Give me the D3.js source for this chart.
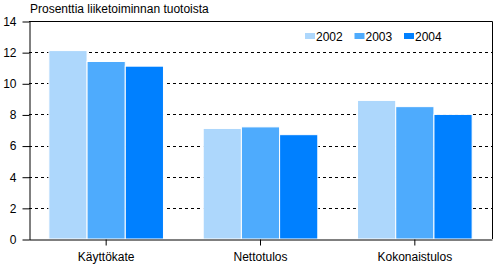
<!DOCTYPE html>
<html>
<head>
<meta charset="utf-8">
<script src="https://cdn.jsdelivr.net/npm/d3@7"></script>
<style>
  body { margin: 0; background: #fff; }
  svg text { font-family: "Liberation Sans", Arial, sans-serif; fill: #000; }
</style>
</head>
<body>
<script>
//chart data
var categories = ["Käyttökate", "Nettotulos", "Kokonaistulos"];
var years = ["2002", "2003", "2004"];
var values2002 = [12.1, 7.1, 8.9];
var values2003 = [11.4, 7.2, 8.5];
var values2004 = [11.1, 6.7, 8.0];
var yTicks = [0, 2, 4, 6, 8, 10, 12, 14];
var colors = ["#add7fc", "#4eabfd", "#0080ff"];

var series = [values2002, values2003, values2004];

//frame
var width = 493, height = 266;
var margin = {top: 21, right: 1, bottom: 27, left: 29};

var svg = d3.select("body").append("svg")
    .attr("width", width)
    .attr("height", height);

var x = d3.scaleBand()
    .domain(categories)
    .range([margin.left, width - margin.right])
    .paddingInner(0)
    .paddingOuter(0);

var x1 = d3.scaleBand()
    .domain(years)
    .range([0, x.bandwidth()])
    .paddingOuter(0.52)
    .paddingInner(0);

var y = d3.scaleLinear()
    .domain([0, 14])
    .range([height - margin.bottom, margin.top]);

//dashed gridlines
svg.selectAll(".grid")
    .data(yTicks.filter(function(d){ return d > 0 && d < 14; }))
    .enter().append("line")
    .attr("class", "grid")
    .attr("x1", margin.left)
    .attr("x2", width - margin.right)
    .attr("y1", function(d){ return Math.round(y(d)) + 0.5; })
    .attr("y2", function(d){ return Math.round(y(d)) + 0.5; })
    .attr("stroke", "#000")
    .attr("stroke-dasharray", "3,3");

//bars
var groups = svg.selectAll(".cat")
    .data(categories)
    .enter().append("g")
    .attr("transform", function(d){ return "translate(" + x(d) + ",0)"; });

groups.selectAll("rect")
    .data(function(d, i){
      return years.map(function(yr, j){ return {year: yr, value: series[j][i], k: j}; });
    })
    .enter().append("rect")
    .attr("x", function(d){ return x1(d.year); })
    .attr("width", x1.bandwidth())
    .attr("y", function(d){ return y(d.value); })
    .attr("height", function(d){ return y(0) - y(d.value); })
    .attr("fill", function(d){ return colors[d.k]; })
    .attr("stroke", "#fff")
    .attr("stroke-width", 1);

//plot border (top and right)
svg.append("path")
    .attr("d", "M" + margin.left + "," + (margin.top + 0.5) + "H" + (width - margin.right + 0.5) +
               "V" + (height - margin.bottom))
    .attr("fill", "none")
    .attr("stroke", "#000");

//y axis
var yAxis = svg.append("g")
    .attr("transform", "translate(" + (margin.left + 0.5) + ",0.5)")
    .call(d3.axisLeft(y).tickValues(yTicks).tickSize(7).tickPadding(6).tickSizeOuter(0));
yAxis.select(".domain").attr("stroke", "#000");
yAxis.selectAll("text").style("font-size", "12px");

//x axis
var xAxis = svg.append("g")
    .attr("transform", "translate(0," + (height - margin.bottom + 0.5) + ")")
    .call(d3.axisBottom(x).tickSize(6).tickPadding(7).tickSizeOuter(0));
xAxis.selectAll("text").style("font-size", "12px");

//title
svg.append("text")
    .attr("x", 30)
    .attr("y", 13)
    .style("font-size", "12px")
    .text("Prosenttia liiketoiminnan tuotoista");

//legend
var legend = svg.selectAll(".legend")
    .data(years)
    .enter().append("g")
    .attr("transform", function(d, i){ return "translate(" + (305 + i * 49.5) + ",33)"; });

legend.append("rect")
    .attr("width", 10)
    .attr("height", 6)
    .attr("fill", function(d, i){ return colors[i]; });

legend.append("text")
    .attr("x", 11)
    .attr("y", 8)
    .style("font-size", "12px")
    .text(function(d){ return d; });
</script>
</body>
</html>
